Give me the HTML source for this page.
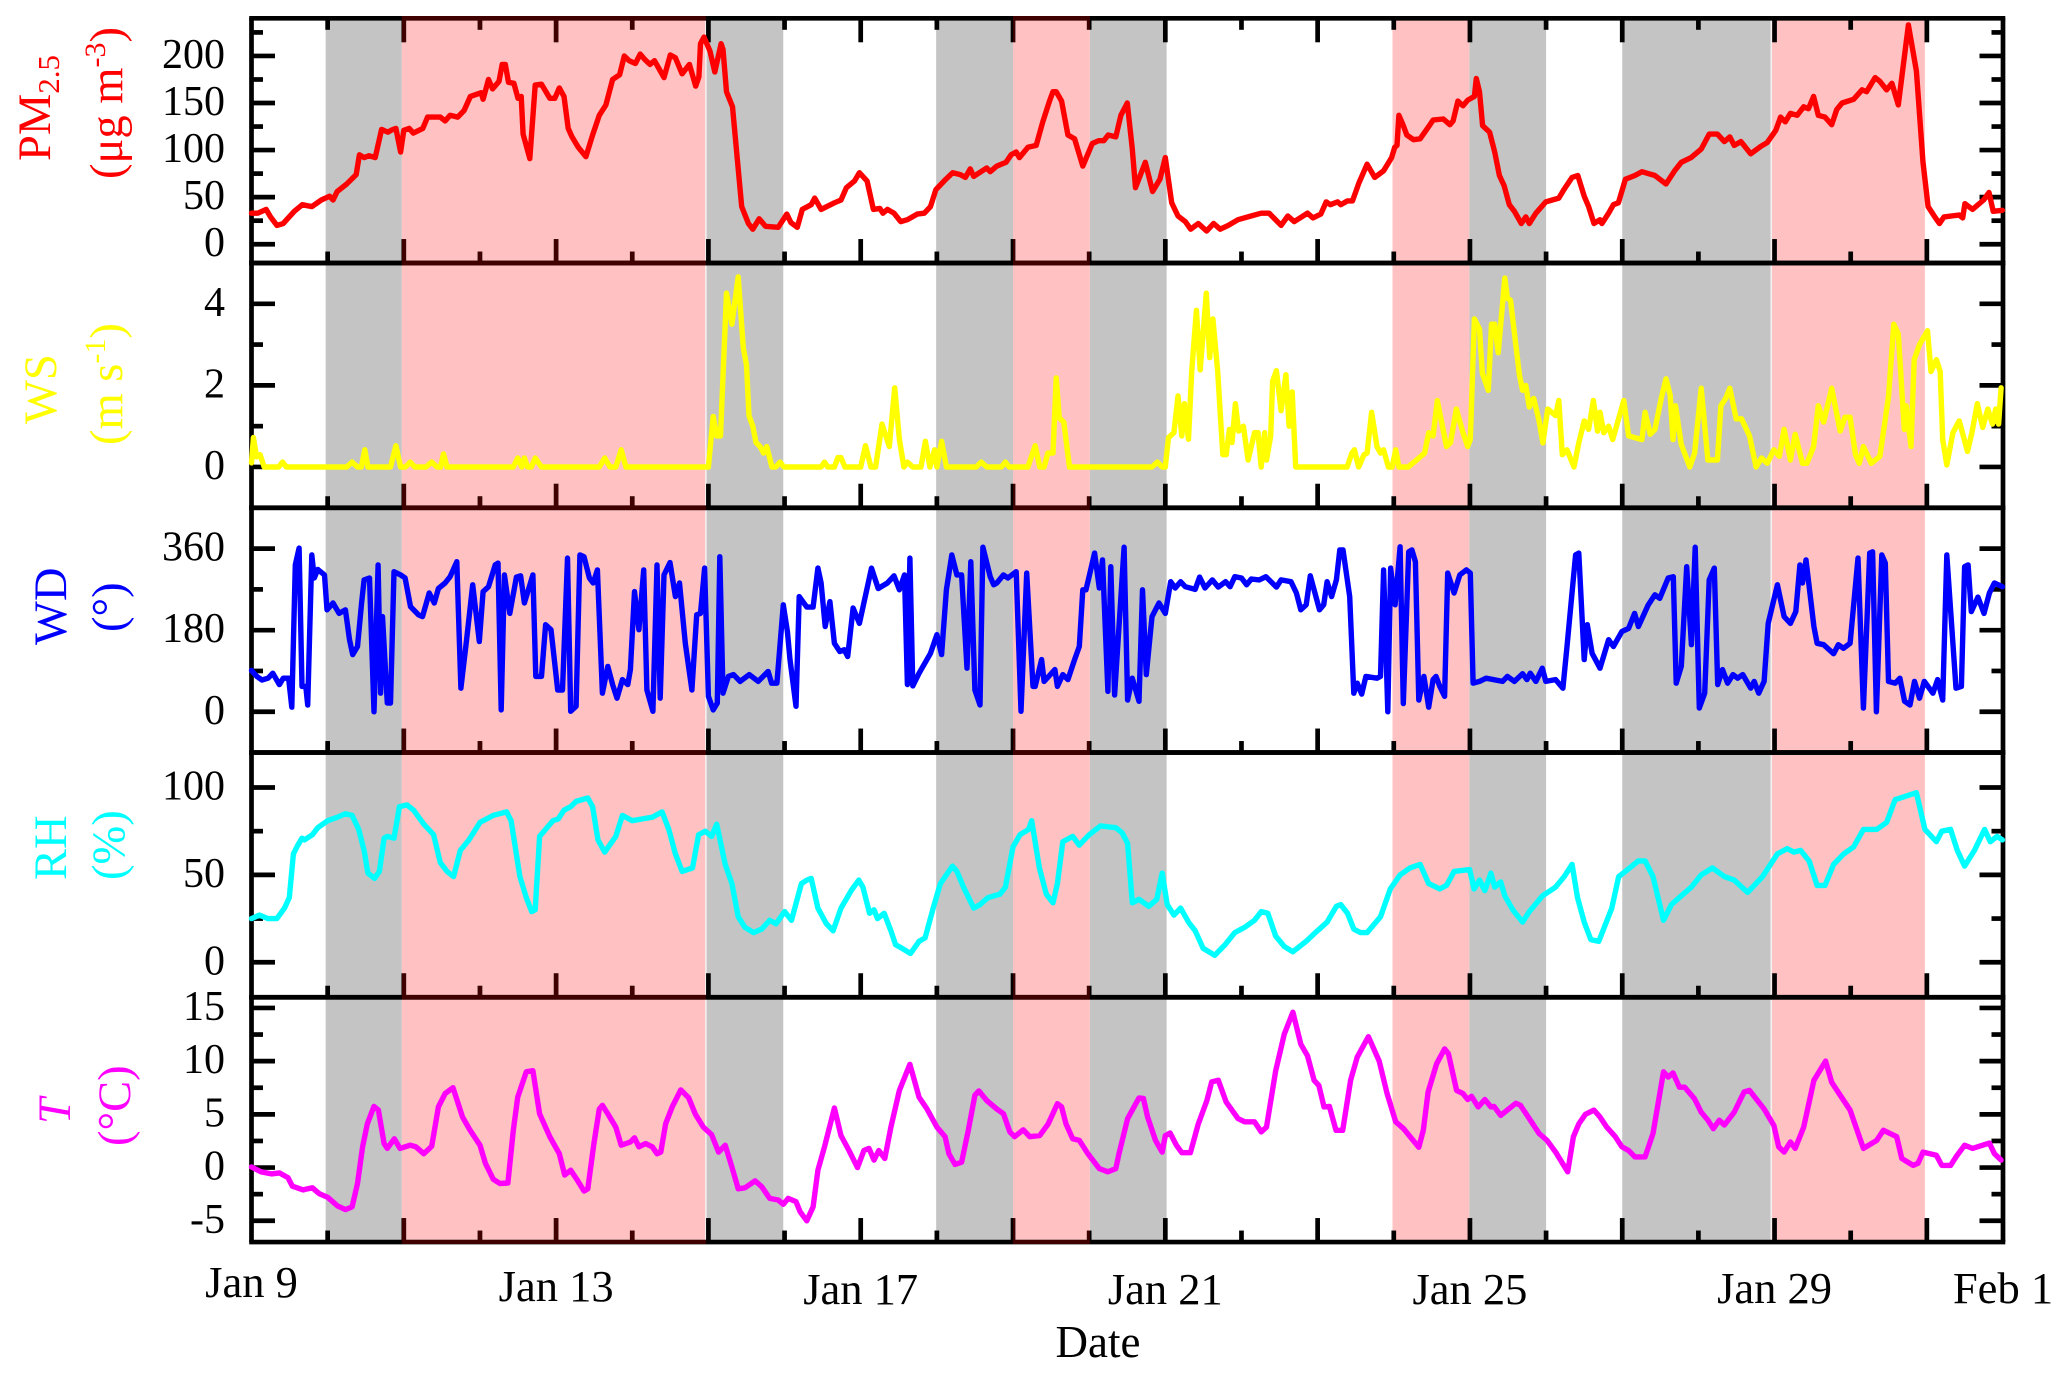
<!DOCTYPE html>
<html lang="en">
<head>
<meta charset="utf-8">
<title>Time series of PM2.5 and meteorological parameters</title>
<style>
html,body{margin:0;padding:0;background:#fff;}
svg{display:block;font-family:"Liberation Serif",serif;}
</style>
</head>
<body>
<svg id="chart" xmlns="http://www.w3.org/2000/svg" width="2067" height="1374" viewBox="0 0 2067 1374">
<rect x="0" y="0" width="2067" height="1374" fill="#fff"/>
<g id="shading"></g>
<g id="axes"></g>
<g id="tint"></g>
<g id="series"></g>
<g id="labels" font-size="42" fill="#000"></g>
<g font-size="46.5">
  <text transform="translate(50,161) rotate(-90)" fill="#ff0000">PM<tspan font-size="31" dy="9">2.5</tspan></text>
  <text transform="translate(122,179) rotate(-90)" fill="#ff0000">(μg m<tspan font-size="30" dy="-17">-3</tspan><tspan dy="17">)</tspan></text>
  <text transform="translate(56,424) rotate(-90)" fill="#ffff00">WS</text>
  <text transform="translate(122,445) rotate(-90)" fill="#ffff00">(m s<tspan font-size="30" dy="-17">-1</tspan><tspan dy="17">)</tspan></text>
  <text transform="translate(66,645) rotate(-90)" fill="#0000ff">WD</text>
  <text transform="translate(124,632) rotate(-90)" fill="#0000ff">(°)</text>
  <text transform="translate(66,880) rotate(-90)" fill="#00ffff">RH</text>
  <text transform="translate(124,880) rotate(-90)" fill="#00ffff">(%)</text>
  <text transform="translate(70,1124) rotate(-90)" fill="#ff00ff" font-style="italic">T</text>
  <text transform="translate(130,1146) rotate(-90)" fill="#ff00ff">(°C)</text>
  <text x="1098" y="1357" text-anchor="middle" font-size="45" fill="#000">Date</text>
</g>
</svg>
<script>
const pmHours=[0,2,4.6,6,8,10,13.5,16,19,22,24.6,25.7,27,30,33,34,35.5,37,39,41,43,44,45.5,47,48,49.7,51,54,55.5,59.5,61,62.6,65,67,69,72.4,73,74.7,76,78,79,80,81,82.7,84,85,85.6,87.7,89.4,91.4,94,95.6,97,98.5,99.8,101,103,105.4,107.5,109.6,111.7,113.8,116,117.5,119,121,122.5,124,125.6,127,130,132,133.6,135.7,138,140,141,141.5,142.6,144.5,146,148,148.6,149.7,151.6,153,154.5,156.6,158,160,162,166,168.7,170,172,173.6,176.4,177.5,179.5,183.7,185.8,187.5,190,191.6,194,196,198,199,200.4,202.5,204.6,206.7,209.8,212,214,215.7,218.8,221,223.4,225,226.5,227.6,231.7,232.8,234.9,237.8,239.4,241,242,244.7,
247.3,249.4,251.5,252.6,253.6,255.3,257.3,259.4,262,265,267,268.6,270,272.4,274,276,277.6,278.6,281.7,284,286.3,288,290,292,294.3,296,298.4,301,303.2,305.3,307.8,310.9,315,318.2,320.7,324.5,326.6,328.6,332.8,334.5,337,338.7,340,342.3,343.3,345.4,347,349,351.6,354,356.8,359.3,360.3,361,361.6,363,364.1,366.2,368.3,371.4,372.4,375.6,377.7,378.7,380.2,381.8,383.3,385.4,386,387,388,390.2,391.8,393.3,394.8,396.4,398,400.2,401.6,402.7,404.8,407.9,412,413.6,416.2,418,420,421.4,423.1,425,425.6,427.7,429.2,430.8,433,436,438.2,442.3,445.8,448.5,450.6,453.7,456.9,459.4,462,464.2,465.9,467.3,469.4,472.5,475.7,477.7,480.4,481.9,483.4,485,487.1,489.2,490.7,492.3,493.8,495.9,498,499.6,501.3,504.9,507.6,509,511.7,513.2,515.3,517,519,522.2,524.7,526.8,528.4,530.5,532,533.4,538.2,539.3,540,542.4,545.9,547.6,548.9,551.8];
const pmValues=[33,33,37,29,20,22,35,42,40,47,51,47,56,64,74,95,92,94,92,122,119,121,123,98,121,123,118,123,135,135,131,137,135,142,157,161,154,175,165,173,191,191,172,171,155,157,117,91,169,170,155,155,166,157,123,114,103,93,116,137,148,175,180,200,195,192,202,196,191,195,177,201,198,181,191,168,178,213,220,205,183,213,207,162,146,94,40,22,16,27,19,18,32,23,18,37,42,49,37,44,47,60,67,76,67,37,38,33,37,33,24,26,32,33,40,58,69,76,74,71,80,72,81,77,83,87,95,98,92,103,
105,130,152,162,162,152,116,112,83,107,110,110,116,114,137,150,101,60,87,56,69,92,44,30,24,16,22,14,22,16,20,26,30,33,33,20,30,24,33,28,32,45,42,45,42,46,46,65,85,71,78,92,103,105,137,126,116,111,112,127,132,133,127,131,152,147,153,157,176,162,126,119,98,73,62,42,35,22,29,22,33,45,49,58,71,73,51,40,22,26,22,33,42,44,69,73,77,73,64,78,87,92,101,117,117,109,114,105,109,96,104,108,121,135,130,139,137,146,144,157,137,135,127,143,150,154,164,162,177,173,164,171,148,233,184,87,40,29,22,29,31,28,43,37,47,55,35,36];

const wsHours=[0,0.6,1.6,2.7,4,8.5,9.8,11,30,31.7,33.4,34.6,35.7,36.7,43.8,45.5,47,48.5,50,51.5,55,56.8,58.5,59.6,60.5,61.6,82.5,83.9,85.2,86,87,88.2,89.4,91.4,109.6,111.3,113,114.8,116.5,118,144,145.5,146.6,147.8,149.7,151.4,153.4,155,156,156.8,158,159,160.3,161.4,162.4,164,165.2,166.6,167.8,179.5,180.6,181.6,183.7,184.8,185.8,187,192,193.5,195.2,196.7,198.7,201,202.7,204.2,205.6,206.7,208.4,211,212.4,213.8,215.3,216,217.5,219,228.4,230,231.7,236.3,237.6,238.8,244.7,
247,248.4,249.8,251,252.6,253.6,254.6,256,257.8,259,283.8,285.5,287,288,289,290.7,292,293.2,294,295.3,296.3,297.8,299,300.9,302,303,304.5,306.1,307.2,308.2,309,310.1,311.1,312.6,314.1,316.1,317.2,318.2,319.3,319.9,321.2,321.8,323,324.5,326,327,328,329.1,345.3,346.8,347.6,348.9,350.6,351.6,353,354.7,355.8,356.8,358.3,359.5,360.6,361.6,364.5,367.2,369.7,371,372.4,373.7,376.6,377.9,379.7,381.8,383.3,384.1,385.4,387,387.9,389.8,390.8,391.8,392.9,395,395.8,396.8,399.6,400.6,401.6,402.7,404.1,405.8,407,408.5,411,412,413.1,414.6,416.8,418.3,420,421.4,422.9,424.2,425,426.2,427.7,429,432.5,434,438.2,439.2,440.8,442.3,444.4,445.8,447.1,448,448.8,450.6,453.3,454.8,456.9,459,462,463.1,464.6,465.9,467.9,469.6,472.1,474.2,475.9,477.7,479.8,481.5,483,485,486.5,488.8,490.2,492.3,493.8,495.5,498,500.7,502.2,503.8,505.5,506.7,508,510.5,513.2,515.9,517.6,519,520.9,521.5,523,524,525.7,528.2,529.3,531,532.2,533,534.3,536.2,538.2,540.8,542.2,543.9,545.6,547.2,548.7,549.7,550.6,551.4];
const wsValues=[0.1,0.72,0.25,0.3,0,0,0.12,0,0,0.12,0,0,0.42,0,0,0.52,0,0,0.12,0,0,0.12,0,0,0.32,0,0,0.22,0,0.22,0,0,0.22,0,0,0.22,0,0,0.42,0,0,1.24,0.76,0.76,4.26,3.5,4.66,2.92,2.5,1.26,1,0.6,0.5,0.34,0.5,0,0,0.12,0,0,0.12,0,0,0.23,0.23,0,0,0.52,0,0,1.05,0.5,1.94,0.67,0,0.12,0,0,0.63,0,0.42,0,0.63,0,0,0.12,0,0,0.12,0,0,
0.52,0,0,0.34,0.34,2.18,1.2,1.1,0,0,0,0.12,0,0,0.72,0.84,1.74,0.76,1.55,0.68,2.34,3.84,2.38,4.26,2.68,3.63,2.34,0.3,0.3,0.92,0.6,1.55,0.88,1,0.17,0.84,0.84,0,0.84,0.17,0.76,2.1,2.36,1.38,2.26,1,1.84,0,0,0.34,0.42,0,0.3,0.34,1.34,0.5,0.34,0.42,0,0,0.42,0,0,0.17,0.34,0.84,0.76,1.63,0.5,0.6,1.42,0.84,0.5,0.67,3.63,3.38,2.3,1.88,3.5,3.5,2.8,4.63,4.13,4.09,2.26,1.88,2,1.47,1.68,1.13,0.59,1.42,1.26,1.63,0.3,0.42,0,0.59,1.13,0.92,1.63,0.88,1.34,0.84,1,0.67,1.63,0.76,0.67,1.34,0.8,0.92,1.72,2.16,1.76,0.67,1.5,0.55,0,0.34,1.93,0.17,0.17,1.5,1.68,1.93,1.18,1.18,0.76,0,0.22,0.09,0.42,0.26,0.92,0.17,0.8,0.09,0.09,0.5,1.5,1.1,1.93,0.88,1.22,1.22,0.3,0.09,0.5,0.09,0.26,1.72,3.5,3.26,0.92,1.5,0.5,2.63,3,3.34,2.34,2.63,2.34,0.67,0.05,0.84,1.13,0.38,0.84,1.55,0.97,1.42,1.05,1.42,1.05,1.94];

const wdHours=[0,1.7,3.3,5.2,6.7,8.8,10,11.7,12.7,13.8,15,15.9,17.1,17.7,19,19.8,20.9,23,23.8,25.7,27.6,29.6,30.9,31.9,33.4,34.7,35.5,37.2,38.6,39.9,40.7,41.3,42.8,43.8,44.9,47,48.4,50.1,52.6,53.9,56,57.6,58.9,61,62.6,64.7,66,67.8,69.7,71.8,73,74.7,76.8,77.7,78.7,79.7,81.4,83.5,84.8,86,88.7,89.6,91.4,92.7,94.4,96.5,98,99.6,100.6,102.3,103.5,104.8,106.5,107.7,109,110.6,112.3,113.8,115.2,116.9,118.6,119.4,120.7,122.1,123.6,124.6,126.5,127.8,128.8,130,131.9,133.6,134.9,136.7,138.8,140.3,141.5,142.8,144,145.5,146.8,147.6,148.6,150.3,151.9,154,156.9,159.7,162.8,163.9,165.6,167.6,168.9,169.7,171.6,172.6,175,177,178.5,179.5,180.8,182.3,183.7,185.4,186.8,187.9,189.6,191.6,195.4,197.5,200.4,202.5,204.2,205.8,206.7,207.5,208.4,210.4,214,216,217.5,219,220.7,222.3,223.8,225.5,226.7,228,229.6,230.5,232.8,233.9,234.9,237,238.4,241,242.5,244.3,
246.3,247,249,249.8,253.2,254,255.7,257.3,259.4,260.9,262,263,265.7,267.2,268.2,269.9,270.8,272,275,276.1,277.6,279.7,280.8,282,283.8,286,288,289.7,291.1,292.8,294.3,297.4,298.8,300.5,302.8,304.7,307,308.4,309.9,312,313.6,315.1,317.6,319.7,323,324.5,327.6,329.3,330.7,332.4,333.7,336.6,337.9,339,340.4,341.9,343,344,346.1,347.4,348.5,349.9,351.2,354.7,355.8,356.8,358.1,359,360.4,362,363,364.7,365.7,366.8,367.9,369.5,371,372.4,373.3,374.5,376,377,379,380.8,382.9,384.1,385,387,389.1,394.3,395.8,398,400.6,402,403,404.8,406.8,407.9,411,413.3,414.6,417.3,418.3,420,421,422.5,425,427.7,429.2,431.9,434,435.9,437.1,440.2,442.3,443.8,446.5,448.1,449,450.6,452.3,453.8,455,456.3,458,459.4,461,462.1,463.6,465.2,466.9,468.4,470,472.5,473.6,475,476.7,478,480.9,483,485,486.7,488,488.8,489.9,492.4,493.4,495.5,498.6,500.1,501.7,503.8,506.3,508,510,510.9,512.1,513.8,514.9,515.9,518,519.5,521,522.7,524.1,525.7,527.2,529.9,531.4,533,534.3,537.2,538.9,539.9,541,542,544.1,546,547.7,549.3,551.8];
const wdValues=[91,78,70,74,85,60,74,74,10,324,361,56,56,15,346,295,314,302,225,240,217,225,159,126,144,240,291,295,0,324,41,210,19,19,309,302,295,232,214,210,262,240,272,284,298,331,52,159,280,155,265,276,324,328,4,302,217,297,300,240,302,78,78,192,181,48,48,339,1,12,346,342,295,284,313,41,100,60,30,71,60,93,265,181,313,48,1,324,30,302,329,254,284,151,48,214,217,317,34,4,19,342,41,78,82,67,82,67,89,63,63,236,177,115,12,254,231,231,317,284,188,243,151,133,137,122,229,195,317,272,284,300,269,302,60,339,57,85,129,170,126,269,346,302,302,96,331,48,15,363,298,280,284,302,295,309,1,306,
56,56,115,67,93,56,82,71,115,144,269,269,350,273,335,45,320,37,363,26,74,23,269,82,210,240,217,287,273,287,276,270,297,273,291,275,287,276,298,295,280,293,291,298,275,291,287,262,225,236,300,225,236,287,254,291,357,357,254,41,63,39,78,74,78,313,0,317,236,364,18,353,357,331,26,78,10,71,78,56,34,306,262,302,313,306,63,67,74,67,78,67,84,71,85,67,96,67,71,52,144,346,350,115,192,129,96,159,144,177,184,217,188,236,258,250,295,298,63,100,320,148,363,8,41,291,317,60,93,63,82,74,82,52,67,41,67,195,280,210,195,221,324,284,335,188,151,148,128,148,140,151,339,8,350,353,0,346,328,67,63,74,23,15,67,30,67,41,71,26,346,52,56,320,324,221,253,217,262,284,276];

const rhHours=[0,2.5,5.2,8,10.4,11.9,13.2,14.6,15.9,16.7,19.2,20.9,24,27.1,29.6,31.7,33.8,35.5,36.7,38.8,40.3,41.8,42.8,44.9,46.6,49,51.1,54.3,57.4,59.5,61.6,63.7,65.8,68.5,72,76.2,80.4,81.8,84.6,86.6,88.3,89.4,90.8,95,96.7,98.5,100.6,102.3,106,107.5,109.2,111.3,114.8,116.9,120,123.2,126.3,129.4,131.5,133.6,135.7,139,140.9,143,145,146.6,149.3,151.4,153.4,155.5,158.2,160.8,163.3,165.3,168,170.2,173.3,175,176.4,178.5,181.2,183.3,185.8,189,191.4,192.7,194.8,196.2,197.3,199.4,201.5,203,205,207.7,210.4,212.3,215,217.1,220.9,222.3,224.4,227.6,229.6,232.1,235.9,237.6,240,242.2,244.9,
245.9,248.3,250.5,252.6,254,255.7,258.8,260.9,264,267.6,272.4,274.4,276.1,277.6,279.7,282.8,285.3,287,288.6,290.7,292.8,295.3,297.4,299.9,303.6,306.8,309.9,313,316.1,318.2,320.3,322.8,325.5,328.2,332.4,335.3,339,341.9,343.3,345.4,347.4,349.5,351.6,355.8,358.9,362,365.1,368.3,371,374.5,376.6,379,383.9,385.3,387,388.7,390.6,391.8,393.7,395,397.5,400.6,402.7,406.9,411,413.7,416.2,417.9,420,422.1,424.6,428.7,430.9,433,437.1,439.2,441.7,445,447.5,450.6,453.8,456.9,460.4,464.2,467.3,471.5,476.2,480.9,484,486.1,488.2,490.9,493.4,495.9,498.6,501.8,504.9,508,512.2,515.3,518,524.7,527.4,531,532.7,535.5,537.6,539.9,543,546.2,548,550.1,551.8];
const rhValues=[25,27,25,25,31,37,62,67,71,70,73,77,81,83,85,84,76,64,51,48,52,71,72,71,89,90,87,79,73,57,52,49,64,70,80,84,86,81,49,37,29,30,72,81,82,87,89,92,94,89,70,63,72,84,81,82,83,86,76,62,52,54,73,75,72,79,56,45,26,20,17,19,24,22,29,24,45,47,48,31,22,18,31,41,47,43,28,30,25,28,18,10,8,5,12,14,32,45,55,52,43,31,33,37,39,43,66,73,76,
81,54,39,34,45,69,72,67,73,78,77,74,68,34,36,32,36,51,33,27,31,23,18,8,4,10,17,20,24,29,28,15,9,6,12,17,23,32,33,28,19,17,17,26,42,50,54,56,45,42,44,52,53,42,47,41,51,43,46,38,30,23,29,38,43,49,56,37,23,13,12,31,49,52,58,58,49,24,33,38,43,50,54,49,47,40,49,62,65,63,64,58,44,44,56,62,66,76,76,80,93,97,76,69,75,76,64,55,64,76,69,72,70];

const tHours=[0,3,6.3,8.8,11.5,12.9,16.3,17.7,19.2,21.3,24,27.1,29.6,31.7,33.4,35,36.5,38.6,40,41.8,42.8,45,46.8,50,51.8,54.3,56.8,58.9,61,63.5,66.5,68.9,72,73.7,76.2,78.3,80.8,82.5,83.9,86.6,88.7,90.8,94,97,98.7,100.6,102.7,104.8,106,107.9,109.6,110.6,112.3,114.8,116.5,119.4,120.7,122.1,124.2,126.3,127.8,129,130.5,132.6,135.3,137.8,139.9,142.4,145,147.2,149.3,151.4,153.4,155.5,158.7,160.8,163.3,166,167.6,169.1,171.6,172.9,175,177,178.5,180.6,183.7,185.8,188.3,191,193,194.6,196.2,197.7,199.6,201.5,204.2,207.5,210.4,212.9,216,218.6,219.8,221.7,223.8,225.9,228,229.2,231.7,234.9,237,239,240.5,243.2,245.3,
248.4,251.1,254,255.3,256.7,258.8,260.9,263.6,267.2,269.9,272.4,273.4,276.1,279.7,281.1,282.4,284.9,287,288,289.5,291.5,293.2,295.9,298.4,301.1,302.6,304.7,307.2,310.9,313,316.1,318.2,319.9,322.8,325.5,328.2,330.7,332.8,334.9,336.4,338,339.7,341.8,343.9,346.4,348.5,352,355.4,357.9,360.6,363.1,367.9,369.3,370.8,373.5,376,377.2,379.8,381.8,383.3,384.5,386.6,388.7,390.6,391.6,393.7,398.5,399.9,402.7,405.8,408.3,411,414.8,416.6,418.3,420.4,423.1,425,427.1,429.8,431.9,434,436,439.2,441.7,445,446.5,448,450,451.7,454.8,456.9,459,460.7,462.6,464.2,467.3,470.4,472.1,476.7,479.8,481.3,483,485,486.5,489.2,492.4,496.1,498,503.8,504.9,508,512.2,514.3,518.5,520.1,523.7,525.2,526.8,531,532.7,535.5,537.2,539.9,542.4,547.7,549.3,551.4];
const tValues=[0.05,-0.4,-0.6,-0.5,-0.95,-1.75,-2.1,-2,-1.9,-2.45,-2.8,-3.6,-3.95,-3.7,-1.5,1.95,4.1,5.75,5.4,2.25,1.8,2.7,1.8,2.1,1.95,1.3,2,5.7,6.95,7.5,4.75,3.5,2.1,0.4,-1.1,-1.5,-1.45,3.5,6.6,9,9.1,5.05,2.9,1.3,-0.7,-0.25,-1.2,-2.2,-2,2.25,5.5,5.85,5.05,3.8,2.1,2.4,2.8,1.95,2.25,1.95,1.3,1.45,4.1,5.7,7.3,6.55,5,3.8,3.1,1.45,2.1,0.05,-2,-1.9,-1.25,-1.8,-2.9,-3.05,-3.45,-2.9,-3.2,-4.15,-5,-3.7,-0.25,1.95,5.6,3,1.6,0,1.6,1.8,0.7,1.6,0.85,3.8,7.25,9.7,6.6,5.5,3.8,2.9,1.3,0.3,0.5,3.5,6.8,7.2,6.3,5.5,5.05,3.35,2.9,3.55,2.9,
3,4.1,6,5.7,4.1,2.7,2.55,1.3,-0.1,-0.4,-0.1,1.3,4.6,6.55,6.5,4.75,2.55,1.45,3,3.25,2.1,1.4,1.4,4.1,6.3,8.05,8.2,6.15,4.6,4.3,4.3,3.35,3.8,9.1,12.55,14.6,11.6,10.5,8.2,7.7,5.7,5.75,3.5,3.5,8.2,10.4,12.3,10,6.95,4.3,3.65,1.9,3.5,7.1,9.75,11.15,10.7,7.25,6.95,6.4,6.7,5.7,6.4,5.7,5.75,4.9,6.05,5.85,4.6,3.2,2.55,1.45,-0.4,2.9,4.1,5,5.4,4.75,3.8,2.9,1.95,1.6,1,1,3.2,9,8.5,8.9,7.55,7.55,6.45,5.2,4.45,3.65,4.45,4,5.2,7.1,7.25,5.5,3.95,1.95,1.45,2.4,1.8,3.8,8.2,10,8,5.4,4.45,1.8,2.55,3.5,2.9,0.85,0.2,0.4,1.45,1.15,0.2,0.2,1,2.1,1.8,2.3,1.3,0.7];

const dayTickLabels=["Jan 9","Jan 13","Jan 17","Jan 21","Jan 25","Jan 29","Feb 1"];
const dayTickDays=[0,4,8,12,16,20,23];
const grayStartDays=[0.974,5.967,8.991,11.009,15.991,18];
const grayEndDays=[1.974,6.983,10,12.017,17,19.957];
const pinkStartDays=[1.974,10,14.983,19.957];
const pinkEndDays=[5.967,11.009,15.991,21.974];
const seamDays=[5.967,19.957];
const tintStartDays=[1.974,10];
const tintEndDays=[5.967,11.009];
const pmMajorTicks=[0,50,100,150,200];
const pmMinorTicks=[25,75,125,175,225];
const wsMajorTicks=[0,2,4];
const wsMinorTicks=[1,3];
const wdMajorTicks=[0,180,360];
const wdMinorTicks=[90,270];
const rhMajorTicks=[0,50,100];
const rhMinorTicks=[25,75];
const tMajorTicks=[-5,0,5,10,15];
const tMinorTicks=[-2.5,2.5,7.5,12.5];

const NS='http://www.w3.org/2000/svg';
const plotLeft=251.5, plotRight=2003, dayCount=23;
const panelTops=[18.3,263,507.8,752.5,997.3];
const panelBottom=1242;
const panelHeight=244.74;

function xOfDay(d){return plotLeft+(plotRight-plotLeft)*d/dayCount;}
function xOfHour(h){return xOfDay(h/24);}
function yScale(top,min,max){return function(v){return top+panelHeight*(max-v)/(max-min);};}
function make(parent,tag,attrs){
  const el=document.createElementNS(NS,tag);
  for(const k in attrs){el.setAttribute(k,attrs[k]);}
  parent.appendChild(el);
  return el;
}

const panels=[
  {key:'pm25',top:panelTops[0],min:-20,max:240,major:pmMajorTicks,minor:pmMinorTicks,color:'#ff0000',hours:pmHours,values:pmValues,topTicks:true},
  {key:'ws',top:panelTops[1],min:-1,max:5,major:wsMajorTicks,minor:wsMinorTicks,color:'#ffff00',hours:wsHours,values:wsValues},
  {key:'wd',top:panelTops[2],min:-90,max:450,major:wdMajorTicks,minor:wdMinorTicks,color:'#0000ff',hours:wdHours,values:wdValues},
  {key:'rh',top:panelTops[3],min:-20,max:120,major:rhMajorTicks,minor:rhMinorTicks,color:'#00ffff',hours:rhHours,values:rhValues},
  {key:'t',top:panelTops[4],min:-7,max:16,major:tMajorTicks,minor:tMinorTicks,color:'#ff00ff',hours:tHours,values:tValues}
];

const shading=document.getElementById('shading');
const axes=document.getElementById('axes');
const tint=document.getElementById('tint');
const seriesGroup=document.getElementById('series');
const labels=document.getElementById('labels');
const shadeTop=panelTops[0], shadeBottom=panelBottom;

grayStartDays.forEach(function(d,i){
  const r=make(shading,'rect',{x:xOfDay(d),y:shadeTop,width:xOfDay(grayEndDays[i])-xOfDay(d),height:shadeBottom-shadeTop,fill:'#c4c4c4'});
  
  
});
pinkStartDays.forEach(function(d,i){
  const r=make(shading,'rect',{x:xOfDay(d),y:shadeTop,width:xOfDay(pinkEndDays[i])-xOfDay(d),height:shadeBottom-shadeTop,fill:'#ffc1c1'});
  
  
});
seamDays.forEach(function(d){
  const r=make(shading,'rect',{x:xOfDay(d)-0.8,y:shadeTop,width:1.6,height:shadeBottom-shadeTop,fill:'#f6f0f0'});
  
  
});

const axisW=4.7, tickW=4.7, majorLen=23.5, minorLen=11.5;
function line(parent,x1,y1,x2,y2,w,name){
  const l=make(parent,'line',{x1:x1,y1:y1,x2:x2,y2:y2,stroke:'#000','stroke-width':w});
  
  
  return l;
}

panels.forEach(function(p){
  const y=yScale(p.top,p.min,p.max);
  const bottom=p.top+panelHeight;
  line(axes,plotLeft,p.top,plotLeft,bottom,axisW,p.key+'-left-axis');
  line(axes,plotRight,p.top,plotRight,bottom,axisW,p.key+'-right-axis');
  line(axes,plotLeft-2.3,p.top,plotRight+2.3,p.top,axisW,p.key+'-top-axis');
  line(axes,plotLeft-2.3,bottom,plotRight+2.3,bottom,axisW,p.key+'-bottom-axis');
  p.major.forEach(function(v){
    line(axes,plotLeft,y(v),plotLeft+majorLen,y(v),tickW,p.key+'-major-tick-left');
    line(axes,plotRight,y(v),plotRight-majorLen,y(v),tickW,p.key+'-major-tick-right');
    const t=make(labels,'text',{x:225,y:y(v)+12,'text-anchor':'end'});
    
    
    t.textContent=String(v);
  });
  p.minor.forEach(function(v){
    line(axes,plotLeft,y(v),plotLeft+minorLen,y(v),tickW,p.key+'-minor-tick-left');
    line(axes,plotRight,y(v),plotRight-minorLen,y(v),tickW,p.key+'-minor-tick-right');
  });
  for(let d=1;d<dayCount;d++){
    const len=(d%2===0)?24:11.5;
    line(axes,xOfDay(d),bottom,xOfDay(d),bottom-len,tickW,p.key+'-x-tick');
    if(p.topTicks){
      line(axes,xOfDay(d),p.top,xOfDay(d),p.top+len,tickW,p.key+'-x-tick-top');
    }
  }
});

tintStartDays.forEach(function(d,i){
  const r=make(tint,'rect',{x:xOfDay(d),y:shadeTop-4,width:xOfDay(tintEndDays[i])-xOfDay(d),height:shadeBottom-shadeTop+8,fill:'#400000',style:'mix-blend-mode:lighten'});
  
  
});

panels.forEach(function(p){
  const y=yScale(p.top,p.min,p.max);
  const n=Math.min(p.hours.length,p.values.length);
  const parts=[];
  for(let i=0;i<n;i++){
    parts.push((i?'L':'M')+xOfHour(p.hours[i]).toFixed(1)+' '+y(p.values[i]).toFixed(1));
  }
  const path=make(seriesGroup,'path',{d:parts.join(''),fill:'none',stroke:p.color,'stroke-width':5.4,'stroke-linejoin':'round','stroke-linecap':'round'});
  
  
});

const labelBaselines=[1297,1301,1304,1304,1304,1303,1303];
dayTickDays.forEach(function(d,i){
  const t=make(labels,'text',{x:xOfDay(d),y:labelBaselines[i],'text-anchor':'middle','font-size':44.5});
  
  
  t.textContent=dayTickLabels[i];
});
</script>
</body>
</html>
